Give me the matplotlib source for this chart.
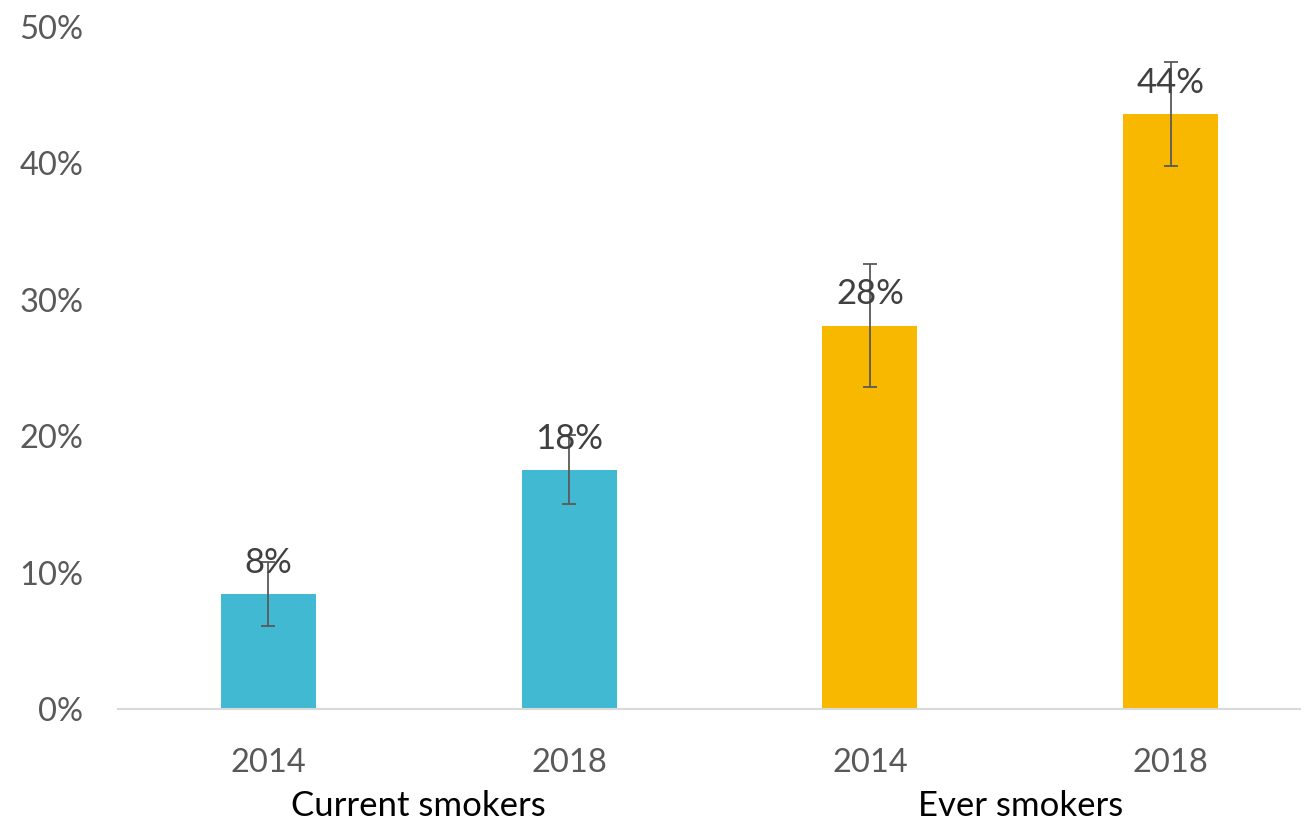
import matplotlib.pyplot as plt
from matplotlib.ticker import PercentFormatter


years = ['2014', '2018', '2014', '2018']
groups = ['Current smokers', 'Ever smokers']
values = [8.4, 17.5, 28.1, 43.6]
err_low = [6.1, 15.0, 23.6, 39.8]
err_high = [10.8, 20.1, 32.6, 47.4]
labels = ['8%', '18%', '28%', '44%']
colors = ['#41B9D2', '#41B9D2', '#F9B800', '#F9B800']


def main():

    plt.rcParams['font.family'] = ['Lato', 'DejaVu Sans']

    W, H = 1304, 826
    fig = plt.figure(figsize=(W / 100, H / 100), dpi=100)
    ax = fig.add_axes([118 / W, (H - 709) / H, (1300 - 118) / W, (709 - 27) / H])

    x = list(range(len(values)))
    yerr = [[v - lo for v, lo in zip(values, err_low)],
            [hi - v for v, hi in zip(values, err_high)]]

    ax.bar(x, values, width=0.316, color=colors, zorder=2)
    ax.errorbar(x, values, yerr=yerr, fmt='none', ecolor='#595959',
                elinewidth=1.3, capsize=5, capthick=1.3, zorder=3)

    for xi, v, lab in zip(x, values, labels):
        ax.annotate(lab, (xi, v), xytext=(0, 11), textcoords='offset points',
                    ha='center', va='bottom', fontsize=25, color='#404040',
                    zorder=4)

    ax.set_xlim(-0.5, 3.43)
    ax.set_ylim(0, 50)
    ax.set_yticks(range(0, 51, 10))
    ax.yaxis.set_major_formatter(PercentFormatter(decimals=0))
    ax.set_xticks(x)
    ax.set_xticklabels(years)

    ax.tick_params(axis='both', length=0, labelsize=23.5, labelcolor='#595959')
    ax.tick_params(axis='x', pad=28)
    ax.tick_params(axis='y', pad=25)

    for s in ['top', 'right', 'left']:
        ax.spines[s].set_visible(False)
    ax.spines['bottom'].set_color('#D9D9D9')
    ax.spines['bottom'].set_linewidth(1.5)

    ax.text(0.5, -0.142, groups[0], transform=ax.get_xaxis_transform(),
            ha='center', va='center', fontsize=25, color='black')
    ax.text(2.5, -0.142, groups[1], transform=ax.get_xaxis_transform(),
            ha='center', va='center', fontsize=25, color='black')

    fig.savefig('out.png', dpi=100)


if __name__ == "__main__":
    main()
